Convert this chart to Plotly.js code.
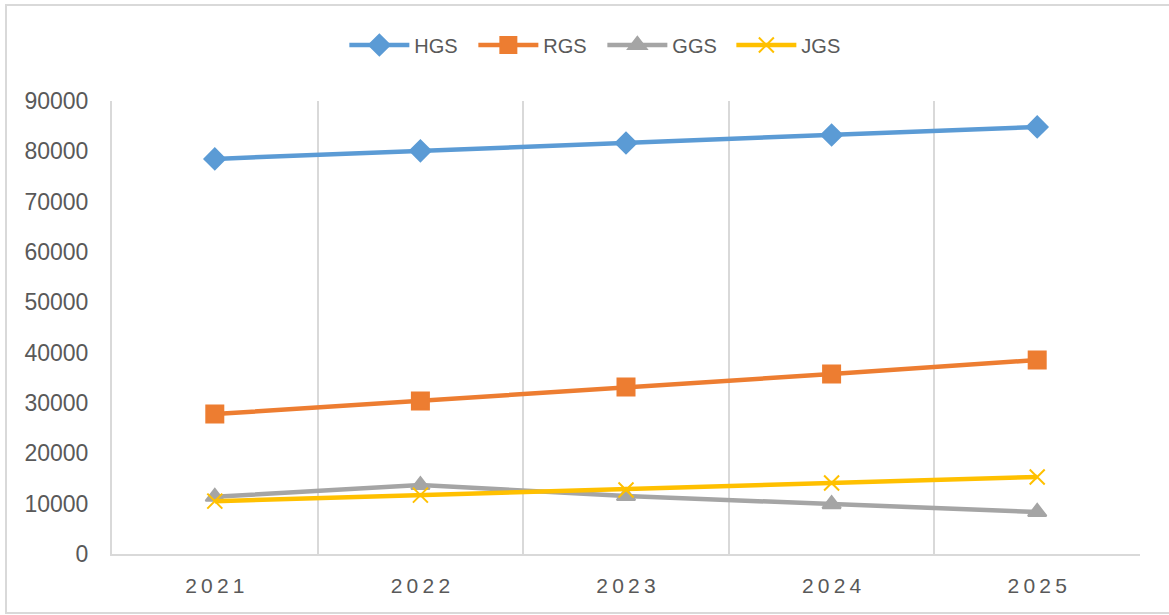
<!DOCTYPE html>
<html>
<head>
<meta charset="utf-8">
<script src="https://cdn.plot.ly/plotly-3.0.1.min.js"></script>
<style>
html,body{margin:0;padding:0;background:#fff;}
#chart{width:1169px;height:615px;}
</style>
</head>
<body>
<div id="chart"></div>
<script>
var years = ['2021', '2022', '2023', '2024', '2025'];
var hgs = [78500, 80100, 81650, 83250, 84850];
var rgs = [27800, 30400, 33200, 35750, 38550];
var ggs = [11350, 13700, 11500, 9900, 8350];
var jgs = [10500, 11700, 12700, 14100, 15300];
var yTicks = [0, 10000, 20000, 30000, 40000, 50000, 60000, 70000, 80000, 90000];

var tickLabels = years.map(function (y) { return y.split('').join('\u2009'); });

var series = [
  {name: 'HGS', y: hgs, color: '#5B9BD5', symbol: 'diamond', size: 16},
  {name: 'RGS', y: rgs, color: '#ED7D31', symbol: 'square', size: 17},
  {name: 'GGS', y: ggs, color: '#A5A5A5', symbol: 'triangle-up', size: 16},
  {name: 'JGS', y: jgs, color: '#FFC000', symbol: 'x-thin-open', size: 15}
];

var traces = series.map(function (s) {
  return {
    type: 'scatter',
    mode: 'lines+markers',
    name: s.name,
    x: years,
    y: s.y,
    line: {color: s.color, width: 4.5},
    marker: {
      symbol: s.symbol,
      size: s.size,
      color: s.color,
      line: {color: s.color, width: 2}
    }
  };
});

var layout = {
  width: 1169,
  height: 615,
  margin: {l: 112, r: 29, t: 101, b: 61, autoexpand: false},
  paper_bgcolor: '#ffffff',
  plot_bgcolor: '#ffffff',
  font: {family: '"Liberation Sans", Arial, sans-serif', color: '#595959', size: 20},
  showlegend: true,
  legend: {
    orientation: 'h',
    x: 0.477,
    xanchor: 'center',
    y: 1.1236,
    yanchor: 'middle',
    bgcolor: 'rgba(0,0,0,0)',
    font: {size: 20, color: '#595959'},
    entrywidth: 54,
    itemwidth: 60
  },
  xaxis: {
    type: 'category',
    range: [-0.5, 4.5],
    tickson: 'boundaries',
    tickvals: years,
    ticktext: tickLabels,
    ticks: '',
    ticklabelstandoff: 12,
    showgrid: true,
    gridcolor: '#d9d9d9',
    gridwidth: 2,
    showline: true,
    linecolor: '#d9d9d9',
    linewidth: 2,
    zeroline: false,
    tickfont: {size: 21, color: '#595959'},
    fixedrange: true
  },
  yaxis: {
    range: [0, 90000],
    tickvals: yTicks,
    ticktext: yTicks.map(String),
    showgrid: false,
    showline: true,
    linecolor: '#d9d9d9',
    linewidth: 2,
    zeroline: false,
    ticks: '',
    ticklabelstandoff: 17,
    tickfont: {size: 23, color: '#595959'},
    fixedrange: true
  },
  shapes: [{
    type: 'rect',
    xref: 'paper', yref: 'paper',
    x0: -0.1031, x1: 1.03,
    y0: -0.1302, y1: 1.2119,
    line: {color: '#d9d9d9', width: 2},
    fillcolor: 'rgba(0,0,0,0)',
    layer: 'below'
  }]
};

Plotly.newPlot('chart', traces, layout, {displayModeBar: false, staticPlot: true});
</script>
</body>
</html>
